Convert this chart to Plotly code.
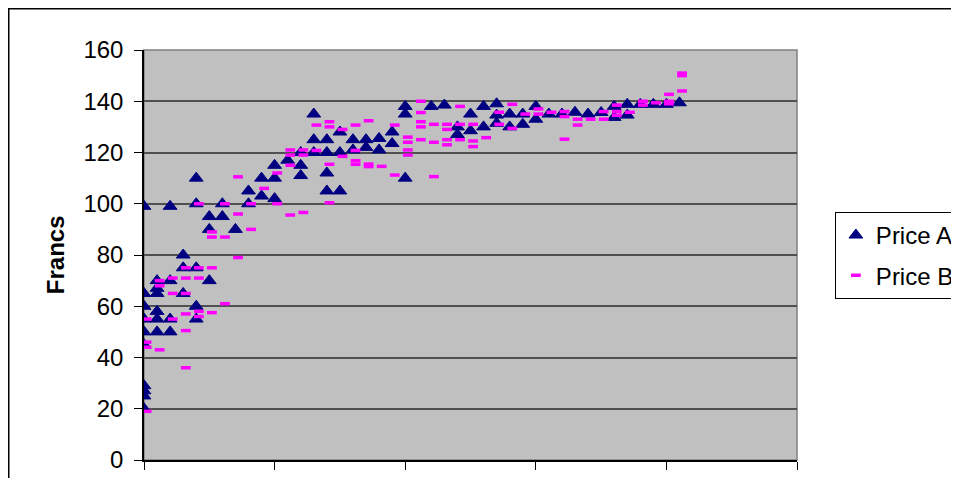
import plotly.graph_objects as go

# ---- data ----
a_x = [0,0,0,0,0,0,0,0,0,0, 1,1,1,1,1,1, 2,2,2,2, 3,3,3, 4,4,4,4,4, 5,5,5, 6,6, 7, 8,8, 9,9,
       10,10,10, 11, 12,12,12, 13,13,13, 14,14,14,14, 15,15,15, 16,16, 17,17, 18,18, 19,19,
       20,20,20, 22, 23, 24,24, 25,25, 26,26, 27,27,27, 28,28, 29,29, 30,30, 31, 32, 33, 34, 35,
       36,36, 37,37, 38, 39, 40, 41]
a_y = [99,65,60,55,50,45,29,27,25,20, 70,67,65,58,55,50, 99,70,55,50, 80,75,65, 110,100,75,60,55,
       95,90,70, 100,95, 90, 105,100, 110,103, 115,110,102, 117, 120,115,111, 135,125,120,
       125,120,112,105, 128,120,105, 125,121, 125,122, 125.5,121, 128,123.5, 138,135,110, 138,
       138.5, 130,127, 135,128.5, 138,130, 139,134.6,131.4, 135,130, 135,131, 138,133, 135, 135,
       135.7, 135, 135.6, 138,133.7, 138.8,134.6, 138.8, 138.8, 138.8, 139.4]

b_x = [0,0,0,0, 1,1,1, 2,2,2, 3,3,3,3,3,3, 4,4,4,4,4, 5,5,5,5, 6,6,6, 7,7,7, 8,8, 9, 10,10,
       11,11,11,11, 12,12,12, 13,13, 14,14,14,14, 15,15, 16,16,16,16, 17,17,17, 18, 19,19,
       20,20,20,20, 21,21,21,21,21, 22,22,22, 23,23,23,23, 24,24,24, 25,25,25, 26, 27,27,
       28,28, 29, 30,30, 31, 32,32,32, 33,33, 34, 35,35, 36,36,36, 37, 38,38, 39, 40,40,40,
       41,41,41]
b_y = [55,46,44,19, 70,68,43, 71,65,55, 75,71,65,57,50.5,36, 100,75,71,58,56, 89,87,75,57.5,
       100,87,61, 110.5,96,79, 100,90, 106, 112,100, 121,119,115,95.6, 121,119,96.6,
       130.7,120.8, 132,130,115.4,100.4, 129,118.5, 130.7,120.8,116.8,115.4, 132.4,115.5,114.5,
       114.6, 130.7,111.2, 126,124,121,119, 140,135.6,132,130,125, 131,124,110.6,
       131,129,125,123, 138,131,125, 131,124.5,122.3, 125.8, 135.7,131, 138.8,129.4, 135,
       137,135, 135.7, 136,134,125.2, 133,130.7, 133, 136,133, 138.5,136,134.5, 135.7,
       140,138.5, 139.4, 142.7,140,139, 151,150,144]

y_ticks = [0, 20, 40, 60, 80, 100, 120, 140, 160]
x_ticks = [0, 10, 20, 30, 40, 50]
series_names = ["Price A", "Price B"]
y_title = "Francs"

assert len(a_x) == len(a_y) and len(b_x) == len(b_y)

DASH_OFFSET = 0.2  # Excel draws its dash marker slightly right of the point
FONT = "Liberation Sans, Arial, sans-serif"

fig = go.Figure()
fig.add_trace(go.Scatter(
    x=a_x, y=a_y, mode="markers", name=series_names[0], legendgroup="a",
    marker=dict(symbol="triangle-up", size=12, color="#000080",
                line=dict(color="#000080", width=1)),
))
fig.add_trace(go.Scatter(
    x=[v + DASH_OFFSET for v in b_x], y=b_y, mode="markers", name=series_names[1], legendgroup="b",
    marker=dict(symbol="line-ew", size=7, color="#FF00FF",
                line=dict(color="#FF00FF", width=3.5)),
))

fig.update_layout(
    width=959, height=478,
    margin=dict(l=136, r=170, t=42, b=26, autoexpand=False),
    paper_bgcolor="white", plot_bgcolor="#C0C0C0",
    font=dict(family=FONT, size=24, color="black"),
    showlegend=True,
    legend=dict(x=1.058, y=0.605, xanchor="left", yanchor="top",
                bordercolor="black", borderwidth=1, bgcolor="white",
                font=dict(family=FONT, size=24, color="black"),
                tracegroupgap=6, itemwidth=30),
    xaxis=dict(range=[0, 50], tickvals=x_ticks, showticklabels=False,
               ticks="outside", ticklen=8, tickcolor="black", tickwidth=1,
               showgrid=False, zeroline=False, showline=True, linecolor="black", linewidth=1.5),
    yaxis=dict(range=[0, 160], tickvals=y_ticks, ticks="outside", ticklen=8,
               tickcolor="black", tickwidth=1, ticklabelstandoff=6,
               showgrid=True, gridcolor="#505050", gridwidth=1.5, zeroline=False,
               showline=True, linecolor="black", linewidth=1.5,
               tickfont=dict(family=FONT, size=24, color="black")),
    shapes=[
        dict(type="rect", xref="paper", yref="paper", x0=0, x1=1, y0=0, y1=1,
             line=dict(color="#808080", width=1.5), layer="below"),
        dict(type="rect", xref="paper", yref="paper", x0=-0.2075, x1=1.3, y0=-0.1, y1=1.101,
             line=dict(color="black", width=2)),
    ],
    annotations=[dict(text="<b>" + y_title + "</b>", xref="paper", yref="paper",
                      x=-0.136, y=0.5, xanchor="center", yanchor="middle",
                      textangle=-90, showarrow=False,
                      font=dict(family=FONT, size=24, color="black"))],
)

fig.write_html("out.html")
